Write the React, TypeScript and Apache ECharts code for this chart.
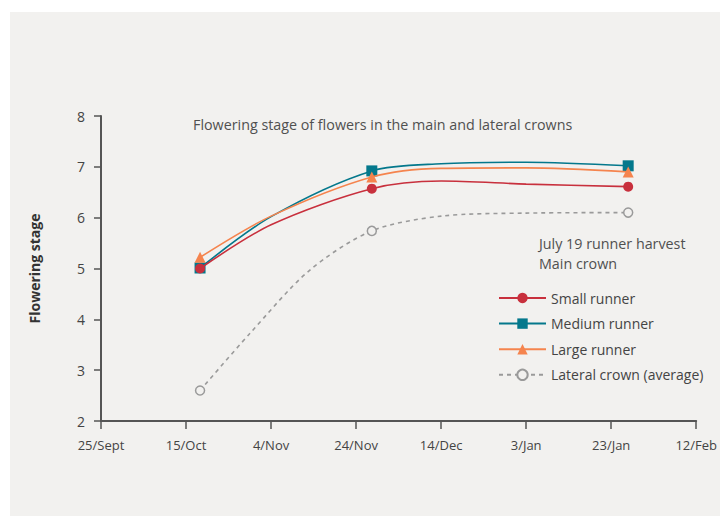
import React, { useEffect, useRef } from "react";
import * as echarts from "echarts";

const tickLabels = ["25/Sept", "15/Oct", "4/Nov", "24/Nov", "14/Dec", "3/Jan", "23/Jan", "12/Feb"];
// days after 25 Sept
const measuredDays = [23.3, 63.7, 124];

const smallDays = [23.3, 40, 63.7, 80, 100, 124];
const smallValues = [5.0, 5.86, 6.57, 6.72, 6.66, 6.61];

const mediumDays = [23.3, 40, 63.7, 80, 100, 124];
const mediumValues = [5.01, 6.02, 6.92, 7.06, 7.09, 7.02];

const largeDays = [23.3, 40, 63.7, 80, 100, 124];
const largeValues = [5.22, 6.03, 6.8, 6.97, 6.98, 6.9];

const lateralDays = [23.3, 35, 49, 63.7, 80, 100, 124];
const lateralValues = [2.6, 3.72, 4.96, 5.74, 6.03, 6.09, 6.1];

const seriesNames = ["Small runner", "Medium runner", "Large runner", "Lateral crown (average)"];
const titleText = "Flowering stage of flowers in the main and lateral crowns";
const noteLines = ["July 19 runner harvest", "Main crown"];

const FONT = "'Open Sans', 'Noto Sans', sans-serif";

function toData(days: number[], vals: number[]) {
  return days.map((d, i) =>
    measuredDays.includes(d) ? { value: [d, vals[i]] } : { value: [d, vals[i]], symbol: "none" }
  );
}

export default function App() {
  const ref = useRef<HTMLDivElement>(null);
  useEffect(() => {
    document.body.style.margin = "0";
    const chart = echarts.init(ref.current!, null, { renderer: "svg" });
    const red = "#c8303d";
    const teal = "#04788c";
    const orange = "#f5844e";
    const gray = "#9a9a9a";
    const panel = "#f2f1ef";
    chart.setOption({
      animation: false,
      backgroundColor: "#ffffff",
      graphic: [
        {
          type: "rect",
          z: -10,
          silent: true,
          shape: { x: 10, y: 12, width: 710, height: 504 },
          style: { fill: panel },
        },
        {
          type: "text",
          left: 193,
          top: 117,
          style: { text: titleText, font: `14.3px ${FONT}`, fill: "#505050" },
        },
        {
          type: "text",
          left: 539,
          top: 233,
          style: { text: noteLines.join("\n"), font: `14.3px ${FONT}`, fill: "#505050", lineHeight: 20 },
        },
      ],
      grid: { left: 101, right: 22, top: 116, bottom: 101 },
      legend: {
        orient: "vertical",
        left: 498,
        top: 291,
        padding: 0,
        itemWidth: 47,
        itemHeight: 13,
        itemGap: 11.6,
        textStyle: { fontFamily: FONT, fontSize: 14, color: "#444" },
        data: seriesNames,
      },
      xAxis: {
        type: "value",
        min: 0,
        max: 140,
        interval: 20,
        splitLine: { show: false },
        axisLine: { lineStyle: { color: "#555", width: 2 } },
        axisTick: { length: 8, lineStyle: { color: "#555", width: 1.5 } },
        axisLabel: {
          margin: 17,
          fontFamily: FONT,
          fontSize: 13,
          color: "#444",
          formatter: (v: number) => tickLabels[Math.round(v / 20)] ?? "",
        },
      },
      yAxis: {
        type: "value",
        min: 2,
        max: 8,
        interval: 1,
        name: "Flowering stage",
        nameLocation: "middle",
        nameRotate: 90,
        nameGap: 60,
        nameTextStyle: { fontFamily: FONT, fontSize: 14, fontWeight: "bold", color: "#333" },
        splitLine: { show: false },
        axisLine: { show: true, lineStyle: { color: "#555", width: 2 } },
        axisTick: { show: true, length: 7, lineStyle: { color: "#555", width: 1.5 } },
        axisLabel: { margin: 16, fontFamily: FONT, fontSize: 14, color: "#444" },
      },
      series: [
        {
          name: seriesNames[0],
          type: "line",
          smooth: 0.3,
          data: toData(smallDays, smallValues),
          symbol: "circle",
          symbolSize: 10,
          color: red,
          lineStyle: { color: red, width: 1.6 },
          itemStyle: { color: red },
          z: 4,
        },
        {
          name: seriesNames[1],
          type: "line",
          smooth: 0.3,
          data: toData(mediumDays, mediumValues),
          symbol: "rect",
          symbolSize: 11,
          color: teal,
          lineStyle: { color: teal, width: 1.6 },
          itemStyle: { color: teal },
          z: 3,
        },
        {
          name: seriesNames[2],
          type: "line",
          smooth: 0.3,
          data: toData(largeDays, largeValues),
          symbol: "triangle",
          symbolSize: 11,
          color: orange,
          lineStyle: { color: orange, width: 1.6 },
          itemStyle: { color: orange },
          z: 5,
        },
        {
          name: seriesNames[3],
          type: "line",
          smooth: 0.3,
          data: toData(lateralDays, lateralValues),
          symbol: "circle",
          symbolSize: 9,
          color: gray,
          lineStyle: { color: gray, width: 1.6, type: [4, 4] },
          itemStyle: { color: panel, borderColor: gray, borderWidth: 1.5 },
          z: 2,
        },
      ],
    });
    return () => chart.dispose();
  }, []);
  return <div ref={ref} style={{ width: 720, height: 522 }} />;
}
